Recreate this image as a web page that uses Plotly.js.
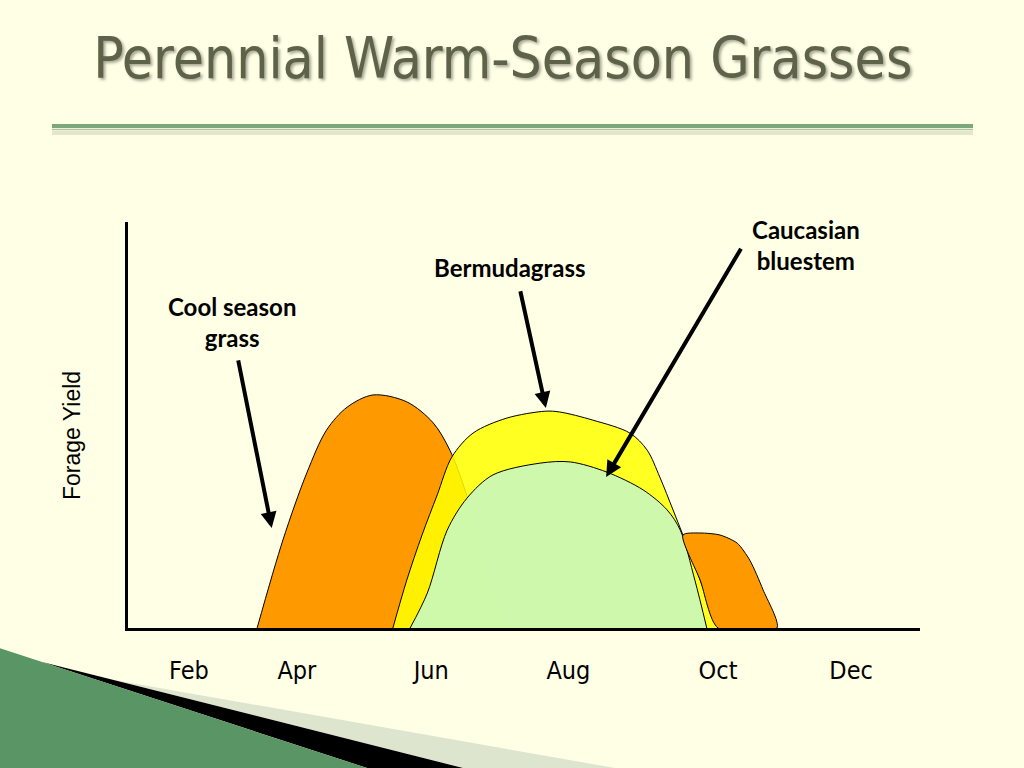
<!DOCTYPE html>
<html>
<head>
<meta charset="utf-8">
<script src="https://cdn.plot.ly/plotly-3.0.1.min.js"></script>
<style>
  html, body { margin: 0; padding: 0; background: #FFFFE5; }
  #chart { width: 1024px; height: 768px; }
</style>
</head>
<body>
<div id="chart"></div>
<script>
// ---- Data (month position on x, relative forage yield on y) ----
const tickMonths = [2.0, 3.63, 5.66, 7.73, 9.99, 12.0];
const tickLabels = ["Feb", "Apr", "Jun", "Aug", "Oct", "Dec"];

const coolMonths  = [3.03, 3.42, 3.78, 4.08, 4.39, 4.78, 5.29, 5.69, 5.94, 6.17, 6.40, 6.62, 6.74];
const coolYield   = [0,    21.7, 38.2, 48.8, 54.4, 57.4, 55.7, 50.5, 43.8, 34.0, 20.4, 6.9,  0];

const bermudaMonths = [5.08, 5.29, 5.52, 5.75, 5.97, 6.29, 6.80, 7.38, 7.60, 8.10, 8.66, 8.92, 9.11, 9.31, 9.46, 9.72, 9.99];
const bermudaYield  = [0,    11.8, 22.9, 32.8, 42.1, 48.0, 51.7, 53.4, 53.2, 51.2, 48.0, 43.8, 37.2, 29.1, 22.9, 11.8, 0];

const bluestemMonths = [5.34, 5.60, 5.90, 6.20, 6.59, 7.30, 7.76, 8.31, 8.86, 9.22, 9.42, 9.64, 9.82];
const bluestemYield  = [0,    8.6,  24.1, 32.0, 37.7, 40.6, 40.9, 38.4, 34.0, 29.1, 24.1, 11.8, 0];

const coolFallMonths = [9.46, 9.72, 10.02, 10.28, 10.47, 10.67, 10.88, 9.99, 9.72, 9.46];
const coolFallYield  = [22.9, 23.4, 22.9,  20.9,  16.7,  9.4,   0,     0,    11.8, 22.9];

const yAxisTitle = "Forage Yield";
const labelCool = "Cool season<br>grass";
const labelBermuda = "Bermudagrass";
const labelBluestem = "Caucasian<br>bluestem";

// ---- Traces ----
const outline = {color: "#000000", width: 1, shape: "spline", smoothing: 0.9};
const traces = [
  {x: coolMonths, y: coolYield, type: "scatter", mode: "lines", fill: "toself",
   fillcolor: "#FF9900", line: outline, hoverinfo: "skip", name: "Cool season grass"},
  {x: bermudaMonths, y: bermudaYield, type: "scatter", mode: "lines", fill: "toself",
   fillcolor: "rgba(255,255,0,0.86)", line: outline, hoverinfo: "skip", name: "Bermudagrass"},
  {x: bluestemMonths, y: bluestemYield, type: "scatter", mode: "lines", fill: "toself",
   fillcolor: "rgba(204,248,176,0.97)", line: outline, hoverinfo: "skip", name: "Caucasian bluestem"},
  {x: coolFallMonths, y: coolFallYield, type: "scatter", mode: "lines", fill: "toself",
   fillcolor: "#FF9900", line: {color: "#000000", width: 1, shape: "spline", smoothing: 0.7},
   hoverinfo: "skip", name: "Cool season grass (fall)"}
];

const labelFont = {family: "Lato, 'Open Sans', sans-serif", size: 24, color: "#000000", weight: "bold"};
function arrow(x, y, ax, ay) {
  return {x: x, y: y, ax: ax, ay: ay, xref: "x", yref: "y", axref: "x", ayref: "y",
          text: "", showarrow: true, arrowhead: 2, arrowsize: 0.8, arrowwidth: 4,
          arrowcolor: "#000000", standoff: 0, startstandoff: 0};
}

const layout = {
  width: 1024, height: 768,
  paper_bgcolor: "#FFFFE5", plot_bgcolor: "#FFFFE5",
  margin: {l: 128, r: 104, t: 222, b: 140, pad: 0},
  showlegend: false,
  title: {
    text: "Perennial Warm-Season Grasses",
    font: {family: "'DejaVu Sans Condensed', 'DejaVu Sans', sans-serif", size: 56.5, color: "#5E6249",
           shadow: "2px 2px 3px rgba(0,0,0,0.35)"},
    x: 0.491, xanchor: "center", xref: "container",
    y: 0.9245, yanchor: "middle", yref: "container"
  },
  xaxis: {
    range: [1.08, 13.04], showgrid: false, zeroline: false,
    showline: true, linecolor: "#000000", linewidth: 3, mirror: false,
    tickvals: tickMonths, ticktext: tickLabels, ticks: "",
    ticklabelstandoff: 18,
    tickfont: {family: "'DejaVu Sans Condensed', 'DejaVu Sans', sans-serif", size: 25, color: "#000000"},
    fixedrange: true
  },
  yaxis: {
    range: [0, 100], showgrid: false, zeroline: false,
    showline: true, linecolor: "#000000", linewidth: 3,
    showticklabels: false, ticks: "",
    fixedrange: true
  },
  annotations: [
    {x: -0.0707, y: 0.4729, xref: "paper", yref: "paper", text: yAxisTitle, textangle: -90,
     showarrow: false, xanchor: "center", yanchor: "middle",
     font: {family: "'Liberation Sans', Arial, sans-serif", size: 23, color: "#000000"}},
    {x: 2.65, y: 75.4, xref: "x", yref: "y", text: labelCool, showarrow: false, font: labelFont, align: "center"},
    {x: 6.85, y: 88.7, xref: "x", yref: "y", text: labelBermuda, showarrow: false, font: labelFont, align: "center"},
    {x: 11.32, y: 94.3, xref: "x", yref: "y", text: labelBluestem, showarrow: false, font: labelFont, align: "center"},
    arrow(3.25, 24.6, 2.74, 66.3),
    arrow(7.39, 54.2, 7.00, 83.3),
    arrow(8.30, 37.2, 10.35, 93.8)
  ],
  shapes: [
    // title underline
    {type: "line", xref: "paper", yref: "paper", x0: -0.096, x1: 1.0669, y0: 1.2192, y1: 1.2192,
     line: {color: "rgba(150,150,120,0.25)", width: 4}},
    {type: "line", xref: "paper", yref: "paper", x0: -0.096, x1: 1.0669, y0: 1.2365, y1: 1.2365,
     line: {color: "#7BA77B", width: 4}},
    {type: "line", xref: "paper", yref: "paper", x0: -0.096, x1: 1.0669, y0: 1.2278, y1: 1.2278,
     line: {color: "#A9C3A3", width: 1.5}},
    // bottom-left decoration
    {type: "path", xref: "paper", yref: "paper", layer: "below",
     path: "M -0.0177,-0.1281 L 0.6149,-0.3448 L 0.423,-0.3448 Z",
     fillcolor: "#DDE5CF", line: {width: 0}},
    {type: "path", xref: "paper", yref: "paper", layer: "below",
     path: "M -0.1086,-0.0837 L 0.423,-0.3448 L 0.3018,-0.3448 Z",
     fillcolor: "#000000", line: {width: 0}},
    {type: "path", xref: "paper", yref: "paper", layer: "below",
     path: "M -0.1629,-0.0493 L 0.3018,-0.3448 L -0.1629,-0.3448 Z",
     fillcolor: "#5A9566", line: {width: 0}}
  ]
};

Plotly.newPlot("chart", traces, layout, {staticPlot: true, displayModeBar: false});
</script>
</body>
</html>
